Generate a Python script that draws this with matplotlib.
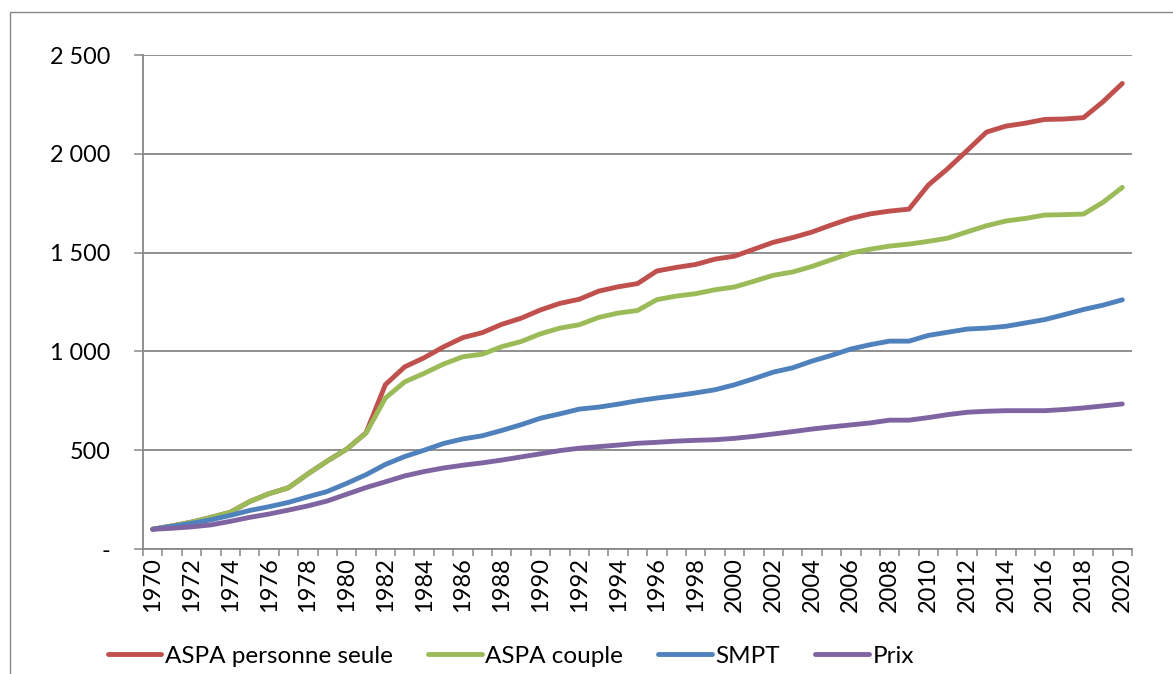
import matplotlib
matplotlib.use("Agg")
from matplotlib import pyplot as plt
from matplotlib.patches import Rectangle
from matplotlib.ticker import FixedLocator, FuncFormatter

plt.rcParams['font.family'] = ['Lato', 'DejaVu Sans']

years = list(range(1970, 2021))

aspa_seule = [100, 117, 136, 160, 186, 240, 280, 310, 380, 445,
              505, 588, 832, 922, 968, 1023, 1070, 1095, 1137, 1168,
              1210, 1243, 1264, 1305, 1327, 1343, 1407, 1425, 1440, 1467,
              1482, 1517, 1552, 1576, 1604, 1640, 1673, 1696, 1710, 1720,
              1842, 1925, 2017, 2110, 2140, 2155, 2174, 2176, 2183, 2263,
              2356]
aspa_couple = [100, 117, 136, 160, 186, 240, 280, 310, 380, 445,
               505, 586, 764, 846, 889, 936, 973, 986, 1024, 1050,
               1089, 1118, 1135, 1172, 1194, 1207, 1262, 1280, 1292, 1312,
               1326, 1355, 1385, 1402, 1430, 1464, 1498, 1517, 1533, 1543,
               1557, 1573, 1605, 1636, 1660, 1673, 1690, 1692, 1695, 1754,
               1830]
smpt = [100, 115, 130, 148, 170, 195, 214, 236, 264, 291,
        332, 376, 428, 468, 500, 534, 557, 573, 600, 629,
        662, 684, 708, 718, 733, 750, 764, 776, 790, 806,
        831, 862, 895, 917, 951, 980, 1012, 1034, 1052, 1052,
        1081, 1097, 1113, 1118, 1127, 1144, 1161, 1186, 1212, 1234,
        1261]
prix = [100, 105, 112, 122, 140, 160, 177, 197, 218, 243,
        277, 311, 340, 370, 392, 410, 424, 436, 450, 466,
        482, 498, 510, 518, 526, 535, 540, 546, 550, 553,
        560, 570, 582, 594, 607, 618, 628, 638, 652, 652,
        665, 680, 692, 697, 700, 700, 700, 706, 714, 724,
        734]

series = [
    ("ASPA personne seule", aspa_seule, "#C0504D"),
    ("ASPA couple", aspa_couple, "#9BBB59"),
    ("SMPT", smpt, "#4F81BD"),
    ("Prix", prix, "#8064A2"),
]

grey = "#878787"

fig = plt.figure(figsize=(11.73, 6.74), dpi=100)
ax = fig.add_axes([143 / 1173, 1 - 549 / 674, 989 / 1173, 494 / 674])

for name, vals, col in series:
    ax.plot(years, vals, color=col, lw=3.5, label=name,
            solid_capstyle="round", solid_joinstyle="round")

ax.set_xlim(1969.5, 2020.5)
ax.set_ylim(0, 2500)

# y axis
ax.set_yticks([0, 500, 1000, 1500, 2000, 2500])
ax.yaxis.set_major_formatter(FuncFormatter(
    lambda v, p: "-" if v == 0 else f"{int(v):,}".replace(",", " ")))
ax.grid(axis="y", color=grey, lw=1.3)
ax.set_axisbelow(True)
ax.tick_params(axis="y", length=6.5, width=1.1, color=grey, pad=17,
               labelsize=16.8)

# x axis: ticks between categories, labels every two years
ax.set_xticks(years[::2])
ax.xaxis.set_minor_locator(FixedLocator([y - 0.5 for y in years] + [2020.5]))
ax.tick_params(axis="x", which="major", length=0, pad=6, labelsize=17,
               labelrotation=90)
ax.tick_params(axis="x", which="minor", length=5, width=1.1, color=grey)

for side in ("top", "right"):
    ax.spines[side].set_visible(False)
for side in ("left", "bottom"):
    ax.spines[side].set_color(grey)
    ax.spines[side].set_linewidth(1.3)

leg = fig.legend(loc="center left", bbox_to_anchor=(108 / 1173, 1 - 656 / 674),
                 ncol=4, frameon=False, fontsize=17.5, handlelength=2.2,
                 handletextpad=0.15, columnspacing=1.45, borderpad=0,
                 borderaxespad=0)
for line in leg.get_lines():
    line.set_linewidth(3.5)

# chart area border
fig.patches.append(Rectangle((9.5 / 1173, -0.1), 1.2, 1.1 - 12 / 674,
                             transform=fig.transFigure, fill=False,
                             edgecolor=grey, lw=1.0))

fig.savefig("out.png", dpi=100)
